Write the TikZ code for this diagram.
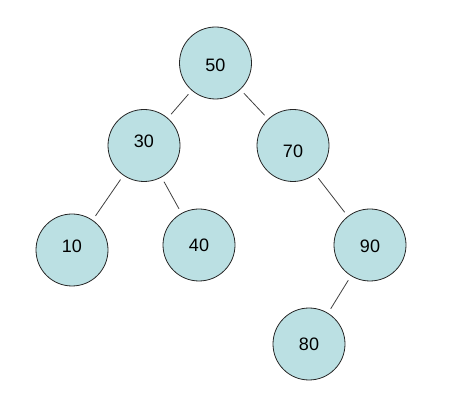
\documentclass[tikz,border=0pt]{standalone}
\usepackage{fontspec}
\setmainfont{Liberation Sans}
\usetikzlibrary{positioning}
\definecolor{nodeblue}{RGB}{187,224,227}

\begin{document}
\begin{tikzpicture}
[x=1pt,y=-1pt,on grid,line width=0.8pt,shorten >=5pt,shorten <=5pt,
 vertex/.style={circle,draw=black!85,fill=nodeblue,minimum size=72pt,inner sep=0pt},
 keyfont/.style={font=\fontsize{18}{21}\selectfont}]

\useasboundingbox (0,0) rectangle (455,419);

\node[vertex, label={[keyfont,yshift=-2pt]center:50}] (n50) at (215.5,63) {};
\node[vertex, below left=82.5pt and 71.5pt of n50, label={[keyfont,yshift=4.5pt]center:30}] (n30) {};
\node[vertex, below right=82.5pt and 77.5pt of n50, label={[keyfont,yshift=-6pt]center:70}] (n70) {};
\node[vertex, below left=104.5pt and 72pt of n30, label={[keyfont,yshift=4pt]center:10}] (n10) {};
\node[vertex, below right=99.5pt and 55pt of n30, label={[keyfont]center:40}] (n40) {};
\node[vertex, below right=99.5pt and 77pt of n70, label={[keyfont,yshift=-1pt]center:90}] (n90) {};
\node[vertex, below left=99pt and 61pt of n90, label={[keyfont]center:80}] (n80) {};

\path[draw=black!75]
	(n50) edge (n30)
		edge (n70)
	(n30) edge (n10)
		edge (n40)
	(n70) edge (n90)
	(n90) edge (n80);
\end{tikzpicture}
\end{document}
